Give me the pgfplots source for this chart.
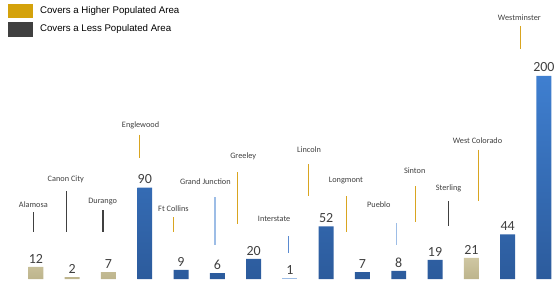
\documentclass[border=0pt]{standalone}
\usepackage{pgfplots}
\pgfplotsset{compat=1.18}
\usepackage{fontspec}
\setmainfont{Carlito}
\newfontfamily\legfont{Liberation Sans}
\definecolor{barblueT}{HTML}{3F7FD0}
\definecolor{barblueB}{HTML}{2C5B9C}
\definecolor{tanT}{HTML}{CFC7A2}
\definecolor{tanB}{HTML}{BDB48C}
\definecolor{ltblue}{HTML}{9DBDE6}
\definecolor{leadgold}{HTML}{D9A520}
\definecolor{legold}{HTML}{D4A20B}
\definecolor{darkg}{HTML}{404040}
\definecolor{labgray}{HTML}{404040}
\definecolor{midblue}{HTML}{5A8AD0}
\newcommand{\cat}[7]{%
  \node[font=\fontsize{8.3}{9}\selectfont, text=labgray, inner sep=0pt] at (axis cs:{#2/36.4-0.989},{(280-#3)/1.02}) {#1};
  \draw[#7, line width=1.1pt] (axis cs:{#4/36.4-0.989},{(280-#5)/1.02}) -- (axis cs:{#4/36.4-0.989},{(280-#6)/1.02});
}
\begin{document}
\begin{tikzpicture}
\begin{axis}[
  width=558pt, height=286pt, scale only axis, hide axis, clip=false,
  xmin=-0.989, xmax=14.341, ymin=-5.88, ymax=274.5,
  ybar, bar width=15pt, bar shift=0pt,
  /pgf/number format/assume math mode=true,
  nodes near coords,
  every node near coord/.append style={font=\fontsize{14}{14}\selectfont, text=labgray, inner sep=3.5pt},
]
\draw[draw=none] (rel axis cs:0,0) rectangle (rel axis cs:1,1);
% tan bars (less populated)
\addplot[draw=none, top color=tanT, bottom color=tanB] coordinates {(0,12) (1,2) (2,7) (12,21)};
% blue bars
\addplot[draw=none, top color=barblueT, bottom color=barblueB] coordinates {(3,90) (4,9) (5,6) (6,20) (8,52) (9,7) (10,8) (11,19) (13,44) (14,200)};
% light blue bar
\addplot[draw=none, fill=ltblue] coordinates {(7,1)};
% category labels and leader lines
\cat{Alamosa}{33.5}{205}{33.3}{213}{233}{darkg}
\cat{Canon City}{66}{180}{66.7}{192}{233}{darkg}
\cat{Durango}{103}{202}{103.3}{211}{233}{darkg}
\cat{Englewood}{141}{126}{140}{135}{158}{leadgold}
\cat{Ft Collins}{174}{209}{174.3}{218}{233}{leadgold}
\cat{Grand Junction}{206}{182}{215.7}{198}{246}{ltblue}
\cat{Greeley}{244}{157}{238.3}{173}{225}{leadgold}
\cat{Interstate}{275}{220}{289}{237}{254}{midblue}
\cat{Lincoln}{310}{150}{309.3}{165}{197}{leadgold}
\cat{Longmont}{347}{181}{347.7}{197}{233}{leadgold}
\cat{Pueblo}{380}{205}{398}{224}{246}{ltblue}
\cat{Sinton}{416}{171}{416.7}{187}{223}{leadgold}
\cat{Sterling}{450}{189}{450}{202}{227}{darkg}
\cat{West Colorado}{479}{141}{480}{150}{202}{leadgold}
\cat{Westminster}{521}{18}{521.7}{26}{49}{leadgold}
% legend
\fill[legold] (rel axis cs:{8/558},{1-4/286}) rectangle (rel axis cs:{33/558},{1-18/286});
\fill[darkg] (rel axis cs:{8/558},{1-22/286}) rectangle (rel axis cs:{33/558},{1-37/286});
\node[anchor=west, inner sep=0pt, font=\legfont\fontsize{9.7}{10}\selectfont, text=black] at (rel axis cs:{40/558},{1-11/286}) {Covers a Higher Populated Area};
\node[anchor=west, inner sep=0pt, font=\legfont\fontsize{9.7}{10}\selectfont, text=black] at (rel axis cs:{40/558},{1-29.5/286}) {Covers a Less Populated Area};
\end{axis}
\end{tikzpicture}
\end{document}
